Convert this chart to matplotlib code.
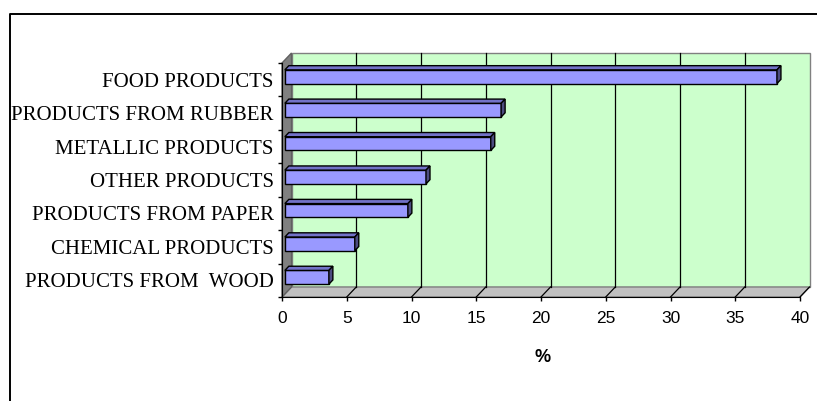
import matplotlib.pyplot as plt
from matplotlib.patches import Polygon
from matplotlib.lines import Line2D
import numpy as np

# data (bottom to top)
categories = ['PRODUCTS FROM  WOOD', 'CHEMICAL PRODUCTS', 'PRODUCTS FROM PAPER',
              'OTHER PRODUCTS', 'METALLIC PRODUCTS', 'PRODUCTS FROM RUBBER', 'FOOD PRODUCTS']
values = [3.4, 5.4, 9.5, 10.9, 15.9, 16.7, 38.0]
xticks = [0, 5, 10, 15, 20, 25, 30, 35, 40]

W, H = 817, 401
fig = plt.figure(figsize=(W / 100, H / 100), dpi=100)

# front plane of the 3d box in pixels
x0px, x1px, ytop, ybot = 282, 800, 63, 297
ax = fig.add_axes([x0px / W, 1 - ybot / H, (x1px - x0px) / W, (ybot - ytop) / H])
ax.set_xlim(0, 40)
ax.set_ylim(0, len(categories))
ax.patch.set_visible(False)

# depth of the box in data units
dx = 9.5 / ((x1px - x0px) / 40)
dy = 10 / ((ybot - ytop) / len(categories))
n = len(categories)

# back wall, floor, side wall
ax.add_patch(Polygon([(dx, dy), (40 + dx, dy), (40 + dx, n + dy), (dx, n + dy)],
                     facecolor='#CCFFCC', edgecolor='#808080', lw=1, clip_on=False, zorder=0))
ax.add_patch(Polygon([(0, 0), (40, 0), (40 + dx, dy), (dx, dy)],
                     facecolor='#C0C0C0', edgecolor='#808080', lw=1, clip_on=False, zorder=0))
ax.add_patch(Polygon([(0, 0), (dx, dy), (dx, n + dy), (0, n)],
                     facecolor='#808080', edgecolor='#606060', lw=1, clip_on=False, zorder=0))

# gridlines on back wall + diagonals on the floor
for t in xticks[1:-1]:
    ax.plot([t + dx, t + dx], [dy, n + dy], color='black', lw=0.9, zorder=1, clip_on=False)
    ax.plot([t, t + dx], [0, dy], color='black', lw=0.9, zorder=1, clip_on=False)
ax.plot([40, 40 + dx], [0, dy], color='black', lw=0.9, zorder=1, clip_on=False)

# bars with a bit of depth
f0, f1 = 0.3, 0.72
bh = 0.41
ox, oy = f0 * dx, f0 * dy
ddx, ddy = (f1 - f0) * dx, (f1 - f0) * dy
ypos = np.arange(n) + 0.5 + oy
ax.barh(ypos, values, height=bh, left=ox, color='#9999FF', edgecolor='black', lw=1, zorder=3)
for yc, v in zip(ypos, values):
    yb, yt = yc - bh / 2, yc + bh / 2
    top = [(ox, yt), (ox + v, yt), (ox + v + ddx, yt + ddy), (ox + ddx, yt + ddy)]
    side = [(ox + v, yb), (ox + v, yt), (ox + v + ddx, yt + ddy), (ox + v + ddx, yb + ddy)]
    ax.add_patch(Polygon(top, facecolor='#7272C8', edgecolor='black', lw=1, zorder=3, clip_on=False))
    ax.add_patch(Polygon(side, facecolor='#4C4C80', edgecolor='black', lw=1, zorder=3, clip_on=False))

# axes
for s in ['top', 'right']:
    ax.spines[s].set_visible(False)
ax.spines['left'].set_color('black')
ax.spines['bottom'].set_color('black')
ax.spines['left'].set_zorder(2)
ax.spines['bottom'].set_zorder(2)

ax.set_xticks(xticks)
ax.set_xticklabels([str(t) for t in xticks], fontsize=12.5, family='Liberation Sans')
ax.tick_params(axis='x', length=3, width=1, pad=7, color='black')

ax.set_yticks(np.arange(n + 1))
ax.set_yticklabels([])
ax.set_yticks(np.arange(n) + 0.5, minor=True)
ax.set_yticklabels(categories, minor=True, fontsize=15, family='Liberation Serif')
ax.tick_params(axis='y', which='major', length=3, width=1, color='black')
ax.tick_params(axis='y', which='minor', length=0, pad=6)

fig.text(543 / W, 1 - 358 / H, '%', fontsize=13, fontweight='bold',
         family='Liberation Sans', ha='center', va='center')

# outer frame (only left and top edges are visible)
fig.add_artist(Line2D([10 / W, 10 / W, 1.0], [0.0, 1 - 14 / H, 1 - 14 / H],
                      transform=fig.transFigure, color='black', lw=1.4))

plt.savefig('out.png', dpi=100)
